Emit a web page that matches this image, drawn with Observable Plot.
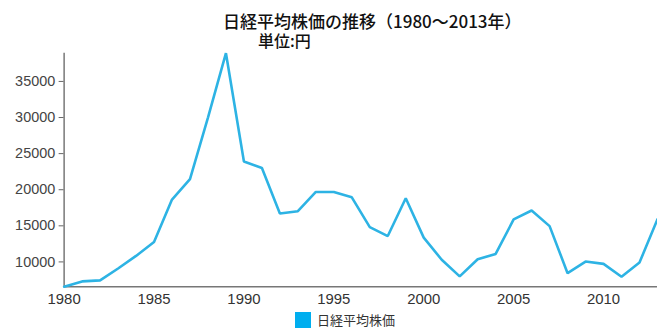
<!DOCTYPE html>
<html>
<head>
<meta charset="utf-8">
<script src="https://cdn.jsdelivr.net/npm/d3@7"></script>
<script src="https://cdn.jsdelivr.net/npm/@observablehq/plot@0.6"></script>
<style>
  html, body { margin: 0; padding: 0; overflow: hidden; background: #fff; width: 657px; height: 329px; }
  #wrap { position: relative; width: 657px; height: 329px; overflow: hidden; }
  .title { position: absolute; left: 223px; top: 12px; font-family: "Noto Sans CJK JP", sans-serif; font-size: 17px; line-height: 18px; color: #111; white-space: nowrap; font-weight: 500; }
  .unit { position: absolute; left: 258px; top: 32px; font-family: "Noto Sans CJK JP", sans-serif; font-size: 16px; line-height: 17px; color: #111; white-space: nowrap; font-weight: 500; }
  #chart { position: absolute; left: 0; top: 0; }
  .legend { position: absolute; left: 295px; top: 312px; height: 16px; display: flex; align-items: center; font-family: "Noto Sans CJK JP", sans-serif; font-size: 13px; line-height: 16px; color: #333; white-space: nowrap; }
  .legend .sw { width: 16px; height: 16px; background: #00aeef; margin-right: 6px; }
</style>
</head>
<body>
<div id="wrap">
  <div id="chart"></div>
  <div class="title">日経平均株価の推移（1980～2013年）</div>
  <div class="unit">単位:円</div>
  <div class="legend"><div class="sw"></div><span>日経平均株価</span></div>
</div>
<script>
const years = [1980,1981,1982,1983,1984,1985,1986,1987,1988,1989,1990,1991,1992,1993,1994,1995,1996,1997,1998,1999,2000,2001,2002,2003,2004,2005,2006,2007,2008,2009,2010,2011,2012,2013];
const values = [6560,7300,7440,9090,10830,12750,18630,21480,30000,38915,23900,23000,16700,17020,19690,19690,18950,14820,13580,18810,13360,10300,7990,10370,11100,15880,17120,14960,8440,10050,9730,7940,9920,15900];
const yTicks = [10000,15000,20000,25000,30000,35000];
const xTicks = [1980,1985,1990,1995,2000,2005,2010];
const seriesName = "日経平均株価";

const data = years.map((y, i) => ({year: y, value: values[i]}));
const yMin = d3.min(values), yMax = d3.max(values);

const chart = Plot.plot({
  width: 661,
  height: 310,
  marginLeft: 64,
  marginRight: 0,
  marginTop: 53,
  marginBottom: 22,
  style: {fontFamily: "'Liberation Sans', Arial, sans-serif", fontSize: "15px", color: "#444", background: "transparent", overflow: "visible"},
  x: {domain: [d3.min(years), d3.max(years)]},
  y: {domain: [yMin, yMax]},
  marks: [
    Plot.axisY({ticks: yTicks, tickSize: 5, tickPadding: 4, tickFormat: d => String(d), label: null, stroke: "#666", fontSize: 14.5, fill: "#444"}),
    Plot.axisX({ticks: xTicks, tickSize: 0, tickPadding: 7, tickFormat: d => String(d), label: null, fill: "#333"}),
    Plot.ruleX([d3.min(years)], {stroke: "#777", strokeWidth: 1.5}),
    Plot.ruleY([yMin], {stroke: "#777", strokeWidth: 1.5}),
    Plot.line(data, {x: "year", y: "value", stroke: "#2db3e4", strokeWidth: 2.6, strokeLinejoin: "miter"})
  ]
});
document.getElementById("chart").appendChild(chart);
</script>
</body>
</html>
